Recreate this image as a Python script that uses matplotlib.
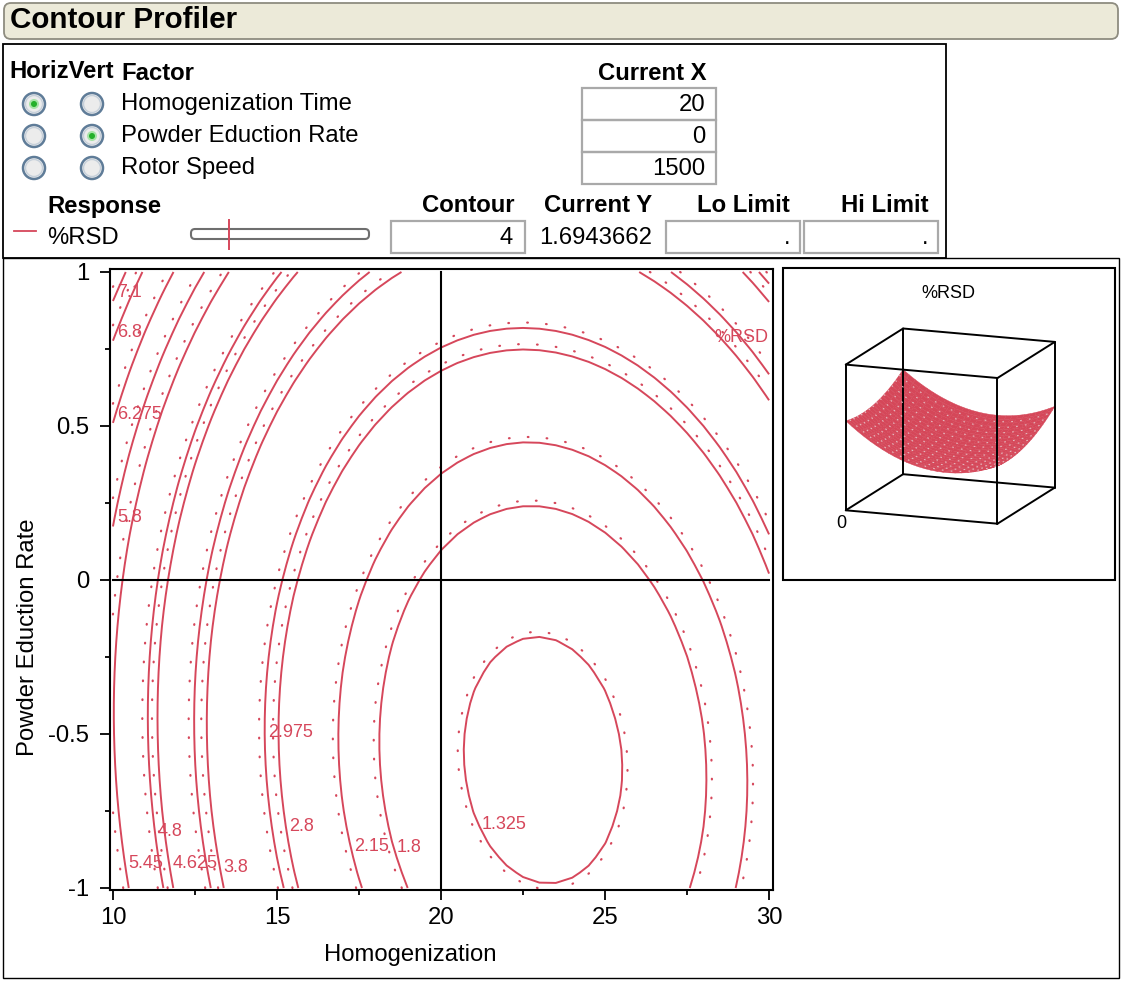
import numpy as np
import matplotlib
matplotlib.use("Agg")
import matplotlib.pyplot as plt
from matplotlib.patches import Rectangle, Circle, FancyBboxPatch
from matplotlib.collections import PolyCollection, LineCollection
from matplotlib.ticker import MultipleLocator

plt.rcParams['font.family'] = ['Liberation Sans', 'DejaVu Sans']

# factor table
factor_names = ["Homogenization Time", "Powder Eduction Rate", "Rotor Speed"]
current_x = [20, 0, 1500]
horiz_on = [True, False, False]
vert_on = [False, True, False]

# %RSD prediction (Rotor Speed held at 1500)
# terms: 1, H, P, H*H, P*P, H*P
coef = [14.59577, -1.14707, 0.56806, 0.0251, 0.91675, 0.021837]
current_y = "1.6943662"
contour_value = 4

h_range = (10, 30)
p_range = (-1, 1)

grid_levels = [1.325, 2.15, 2.975, 3.8, 4.625, 5.45, 6.275, 7.1]
step_levels = [1.8, 2.8, 3.8, 4.8, 5.8, 6.8]

# labels that sit on the left edge, and labels placed on a branch at a given P
edge_labels = [7.1, 6.8, 6.275, 5.8]
branch_labels = [(5.45, -0.92), (4.8, -0.815), (4.625, -0.92), (3.8, -0.935),
                 (2.975, -0.494), (2.8, -0.80), (2.15, -0.865), (1.8, -0.87),
                 (1.325, -0.795)]
resp_label_p = 0.786

RED = '#D6475B'
W, HT = 1122, 981
FS = 17.2


def rsd(h, p):
    b0, bh, bp, bhh, bpp, bhp = coef
    return b0 + bh * h + bp * p + bhh * h * h + bpp * p * p + bhp * h * p


def h_on_level(level, p, side=-1):
    b0, bh, bp, bhh, bpp, bhp = coef
    A = bhh
    B = bh + bhp * p
    C = b0 + bp * p + bpp * p * p - level
    return (-B + side * np.sqrt(B * B - 4 * A * C)) / (2 * A)


def p_on_level(level, h):
    b0, bh, bp, bhh, bpp, bhp = coef
    A = bpp
    B = bp + bhp * h
    C = b0 + bh * h + bhh * h * h - level
    return (-B + np.sqrt(B * B - 4 * A * C)) / (2 * A)


def fbox(x0, y0, x1, y1):
    return [x0 / W, 1 - y1 / HT, (x1 - x0) / W, (y1 - y0) / HT]


fig = plt.figure(figsize=(W / 100, HT / 100), dpi=100)

# ---- panel / widgets layer (pixel units) ----
ui = fig.add_axes([0, 0, 1, 1], zorder=0)
ui.set_xlim(0, W)
ui.set_ylim(HT, 0)
ui.axis('off')

ui.add_patch(FancyBboxPatch((4, 3), 1114, 36, boxstyle="round,pad=0,rounding_size=7",
                            fc='#ECEAD9', ec='#8E8C80', lw=1.3))
ui.text(10, 20, "Contour Profiler", fontsize=21.3, fontweight='bold', va='center')

ui.add_patch(Rectangle((3, 258), 1116, 720, fill=False, ec='black', lw=1.0))
ui.add_patch(Rectangle((3, 44), 943, 214, fill=False, ec='black', lw=1.3))

ui.text(9, 72, "HorizVert", fontsize=FS, fontweight='bold', va='center')
ui.text(121, 73, "Factor", fontsize=FS, fontweight='bold', va='center')
ui.text(652, 73, "Current X", fontsize=FS, fontweight='bold', va='center', ha='center')

rows = [104, 136, 168]
for name, val, hz, vt, yy in zip(factor_names, current_x, horiz_on, vert_on, rows):
    for cx, on in ((34, hz), (92, vt)):
        ui.add_patch(Circle((cx, yy), 11, fc='#ECECEC', ec='#5F7C98', lw=1.8))
        ui.add_patch(Circle((cx, yy), 8.5, fc='none', ec='#C6D0DA', lw=1.0))
        if on:
            ui.add_patch(Circle((cx, yy), 5, fc='#A6E3A6', ec='none'))
            ui.add_patch(Circle((cx, yy), 3, fc='#24B02A', ec='none'))
    ui.text(121, yy, name, fontsize=FS, va='center')
    ui.add_patch(Rectangle((582, yy - 16), 134, 32, fill=False, ec='#A9A9A9', lw=1.6))
    ui.text(705, yy + 1, f"{val}", fontsize=FS, va='center', ha='right')

ui.text(47, 206, "Response", fontsize=FS, fontweight='bold', va='center')
ui.plot([14, 36], [231, 231], color=RED, lw=1.3)
ui.text(47, 238, "%RSD", fontsize=FS, va='center')
ui.add_patch(FancyBboxPatch((191, 229), 178, 10, boxstyle="round,pad=0,rounding_size=4",
                            fc='white', ec='#6E6E6E', lw=1.5))
ui.plot([229, 229], [220, 249], color=RED, lw=1.4)

ui.text(468, 206, "Contour", fontsize=FS, fontweight='bold', va='center', ha='center')
ui.text(598, 206, "Current Y", fontsize=FS, fontweight='bold', va='center', ha='center')
ui.text(743, 206, "Lo Limit", fontsize=FS, fontweight='bold', va='center', ha='center')
ui.text(885, 206, "Hi Limit", fontsize=FS, fontweight='bold', va='center', ha='center')
ui.add_patch(Rectangle((391, 221), 134, 32, fill=False, ec='#A9A9A9', lw=1.6))
ui.text(513, 238, f"{contour_value}", fontsize=FS, va='center', ha='right')
ui.text(596, 238, current_y, fontsize=FS, va='center', ha='center')
ui.add_patch(Rectangle((666, 221), 134, 32, fill=False, ec='#A9A9A9', lw=1.6))
ui.add_patch(Rectangle((804, 221), 134, 32, fill=False, ec='#A9A9A9', lw=1.6))
ui.text(790, 238, ".", fontsize=FS, va='center', ha='right')
ui.text(928, 238, ".", fontsize=FS, va='center', ha='right')

# ---- contour plot ----
ax = fig.add_axes(fbox(110, 269, 773, 890), zorder=1)
ax.set_xlim(h_range[0] - 0.09, h_range[1] + 0.12)
ax.set_ylim(p_range[0] - 0.0065, p_range[1] + 0.0097)

hh = np.linspace(*h_range, 41)
pp = np.linspace(*p_range, 41)
H, P = np.meshgrid(hh, pp)
Z = rsd(H, P)

levels = sorted(set(grid_levels) | set(step_levels) | {contour_value})
ax.contour(H, P, Z, levels=levels, colors=RED, linewidths=1.4)

# dotted companion lines on the high side, a few pixels off each contour
b0, bh, bp, bhh, bpp, bhp = coef
gh = bh + 2 * bhh * H + bhp * P
gp = bp + 2 * bpp * P + bhp * H
px_h = 663 / (h_range[1] - h_range[0] + 0.21)
px_p = 621 / (p_range[1] - p_range[0] + 0.0162)
gpx = np.hypot(gh / px_h, gp / px_p)
cs_dot = ax.contour(H, P, Z - 5.5 * gpx, levels=levels, colors=RED, linewidths=1.6)
cs_dot.set_linestyle((0, (0.3, 8.2)))
cs_dot.set_capstyle('round')

# current settings crosshair
ax.plot([current_x[0]] * 2, p_range, color='black', lw=1.5)
ax.plot(h_range, [current_x[1]] * 2, color='black', lw=1.5)

lab_kw = dict(color=RED, fontsize=13)
for lv in edge_labels:
    ax.text(h_range[0] + 0.12, p_on_level(lv, h_range[0]), f"{lv:g}", va='bottom', ha='left', **lab_kw)
for lv, p in branch_labels:
    ax.text(h_on_level(lv, p) + 0.1, p, f"{lv:g}", va='center', ha='left', **lab_kw)
ax.text(h_on_level(contour_value, resp_label_p, side=1), resp_label_p, "%RSD",
        va='center', ha='center', **lab_kw)

ax.xaxis.set_major_locator(MultipleLocator(5))
ax.xaxis.set_minor_locator(MultipleLocator(2.5))
ax.yaxis.set_major_locator(MultipleLocator(0.5))
ax.yaxis.set_minor_locator(MultipleLocator(0.25))
ax.set_yticks([-1, -0.5, 0, 0.5, 1])
ax.set_yticklabels(["-1", "-0.5", "0", "0.5", "1"])
ax.tick_params(which='major', direction='out', length=7.2, width=1.3, labelsize=FS, pad=8)
ax.tick_params(which='minor', direction='out', length=3.6, width=1.3)
ax.tick_params(axis='x', which='major', pad=5)
for s in ax.spines.values():
    s.set_linewidth(1.5)

fig.text(410 / W, 1 - 955 / HT, "Homogenization", fontsize=FS, ha='center', va='center')
fig.text(28 / W, 1 - 637 / HT, "Powder Eduction Rate", fontsize=FS, ha='center',
         va='center', rotation=90)

# ---- surface view ----
ui.add_patch(Rectangle((783, 268), 332, 312, fill=False, ec='black', lw=1.5))
ui.text(948, 294, "%RSD", fontsize=13, ha='center', va='center')
ui.text(841, 523, "0", fontsize=13, ha='center', va='center')

origin = np.array([845.8, 510.3])
e_h = np.array([151.7, 13.4])
e_p = np.array([57.3, -36.1])
e_z = np.array([0.0, -145.7])
z_range = (-3.48, 11.58)


def proj(h, p, z):
    th = (np.asarray(h) - h_range[0]) / (h_range[1] - h_range[0])
    tp = (np.asarray(p) - p_range[0]) / (p_range[1] - p_range[0])
    tz = (np.asarray(z) - z_range[0]) / (z_range[1] - z_range[0])
    return origin[0] + th * e_h[0] + tp * e_p[0] + tz * e_z[0], \
        origin[1] + th * e_h[1] + tp * e_p[1] + tz * e_z[1]


def corner(ih, ip, iz):
    return proj(h_range[ih], p_range[ip], z_range[iz])


def edge(a, b, **kw):
    xa, ya = corner(*a)
    xb, yb = corner(*b)
    ui.plot([xa, xb], [ya, yb], color='black', lw=1.4, solid_capstyle='round', **kw)


back_edges = [((0, 1, 0), (0, 1, 1)), ((0, 1, 0), (1, 1, 0)), ((0, 0, 0), (0, 1, 0)),
              ((1, 1, 0), (1, 1, 1))]
front_edges = [((0, 0, 0), (1, 0, 0)), ((0, 0, 1), (1, 0, 1)), ((0, 0, 0), (0, 0, 1)),
               ((1, 0, 0), (1, 0, 1)), ((0, 1, 1), (1, 1, 1)), ((0, 0, 1), (0, 1, 1)),
               ((1, 0, 1), (1, 1, 1)), ((1, 0, 0), (1, 1, 0))]
for a, b in back_edges:
    edge(a, b)

sh = np.linspace(*h_range, 26)
sp = np.linspace(*p_range, 26)
polys = []
for j in range(len(sp) - 2, -1, -1):
    for i in range(len(sh) - 1):
        hs = [sh[i], sh[i + 1], sh[i + 1], sh[i]]
        ps = [sp[j], sp[j], sp[j + 1], sp[j + 1]]
        xs, ys = proj(hs, ps, [rsd(a, b) for a, b in zip(hs, ps)])
        polys.append(np.column_stack([xs, ys]))
ui.add_collection(PolyCollection(polys, facecolors='#D54759', edgecolors='#D54759',
                                 linewidths=0.3))

# faint mesh speckle on the surface
mh = np.linspace(*h_range, 81)
mesh = []
for pv in np.linspace(*p_range, 16)[1:-1]:
    xs, ys = proj(mh, np.full_like(mh, pv), rsd(mh, pv))
    mesh.append(np.column_stack([xs, ys]))
ui.add_collection(LineCollection(mesh, colors='#E5BAC0', linewidths=0.8,
                                 linestyles=[(0, (1.5, 6.5))]))

for a, b in front_edges:
    edge(a, b)

fig.savefig("out.png", dpi=100)
